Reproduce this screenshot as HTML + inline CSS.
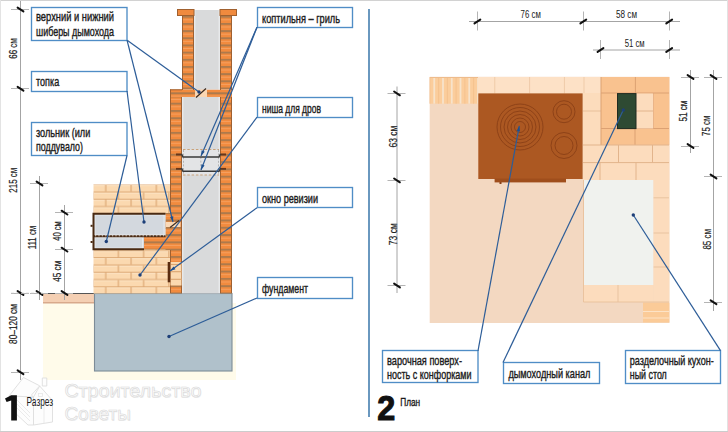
<!DOCTYPE html><html><head><meta charset="utf-8"><style>html,body{margin:0;padding:0;background:#fff;width:728px;height:432px;overflow:hidden}svg{display:block}text{font-family:"Liberation Sans",sans-serif}</style></head><body>
<svg width="728" height="432" viewBox="0 0 728 432">
<defs>
<pattern id="obrickU" patternUnits="userSpaceOnUse" x="0" y="15.8" width="12" height="7.17"><rect width="12" height="7.17" fill="#f28b3e"/><rect y="-0.2" width="12" height="2.2" fill="#ad7a4c"/><rect y="3.6" width="12" height="0.8" fill="#f6a466"/></pattern>
<pattern id="obrickL" patternUnits="userSpaceOnUse" x="0" y="102.7" width="12" height="7.3"><rect width="12" height="7.3" fill="#f28b3e"/><rect y="-0.2" width="12" height="2.2" fill="#ad7a4c"/><rect y="3.6" width="12" height="0.8" fill="#f6a466"/></pattern>
<pattern id="obrickLedge" patternUnits="userSpaceOnUse" x="0" y="92.3" width="12" height="20"><rect width="12" height="20" fill="#f28b3e"/><rect y="-0.2" width="12" height="2.2" fill="#ad7a4c"/><rect y="3.6" width="12" height="0.8" fill="#f6a466"/></pattern>
<pattern id="pbrick" patternUnits="userSpaceOnUse" x="105.7" y="185.1" width="50.6" height="14.6"><rect width="50.6" height="14.6" fill="#fbd9b0"/><rect y="6.4" width="50.6" height="1.1" fill="#dba46f"/><rect y="13.7" width="50.6" height="1.1" fill="#dba46f"/><rect y="7.5" width="50.6" height="0.9" fill="#fde6c8"/><rect y="0.2" width="50.6" height="0.9" fill="#fde6c8"/><rect x="-0.5" y="0" width="1.1" height="6.5" fill="#dba46f"/><rect x="24.8" y="0" width="1.1" height="6.5" fill="#dba46f"/><rect x="50.1" y="0" width="1.1" height="6.5" fill="#dba46f"/><rect x="12.1" y="7.3" width="1.1" height="6.5" fill="#dba46f"/><rect x="37.4" y="7.3" width="1.1" height="6.5" fill="#dba46f"/></pattern>
</defs>
<rect x="0" y="0" width="728" height="432" fill="#fff" />
<line x1="0" y1="0.5" x2="728" y2="0.5" stroke="#d2d2d2" stroke-width="1" />
<line x1="0.5" y1="0" x2="0.5" y2="432" stroke="#e3e3e3" stroke-width="1" />
<line x1="727.5" y1="0" x2="727.5" y2="432" stroke="#e2e2e2" stroke-width="1" />
<line x1="0" y1="431.5" x2="728" y2="431.5" stroke="#cccccc" stroke-width="1" />
<rect x="43" y="303" width="193" height="77" fill="#fffbea" />
<rect x="43" y="293.5" width="51" height="9.5" fill="#f4cfb3" />
<line x1="43" y1="302.8" x2="94" y2="302.8" stroke="#d8a98c" stroke-width="1.4" />
<line x1="43" y1="293.5" x2="94" y2="293.5" stroke="#555" stroke-width="1" />
<rect x="94.5" y="293.5" width="137.5" height="77.5" fill="#b0c1cb" stroke="#7d8c97" stroke-width="1.1" />
<rect x="93.5" y="184.5" width="77" height="109" fill="url(#pbrick)" />
<rect x="144" y="236" width="26" height="13.5" fill="url(#obrickL)" />
<rect x="165.5" y="213" width="5" height="37" fill="url(#obrickL)" />
<rect x="93.5" y="213.5" width="72" height="22.7" fill="#d3d8de" />
<rect x="95" y="215" width="69" height="20" fill="none" stroke="#eceef0" stroke-width="0.8" />
<rect x="93.5" y="236.2" width="50.5" height="13.3" fill="#d3d8de" />
<rect x="95" y="237.8" width="47.5" height="10.3" fill="none" stroke="#eceef0" stroke-width="0.8" />
<polyline points="165.5,213.7 93.5,213.7 93.5,249.3 144,249.3" fill="none" stroke="#4a2a12" stroke-width="2"/>
<line x1="93.5" y1="236.3" x2="165.5" y2="236.3" stroke="#4a2a12" stroke-width="2" />
<line x1="95" y1="235.8" x2="165" y2="235.8" stroke="#f4efe8" stroke-width="0.9" stroke-dasharray="1.2 2.2"/>
<rect x="90.6" y="224.8" width="2" height="2" fill="#4a2a12" />
<rect x="90.6" y="241" width="2" height="2" fill="#4a2a12" />
<rect x="170" y="97" width="12" height="196.5" fill="url(#obrickL)" />
<rect x="220" y="97" width="12" height="196.5" fill="url(#obrickL)" />
<rect x="182" y="97" width="38" height="196.5" fill="#d9dadb" />
<line x1="182.8" y1="97" x2="182.8" y2="293" stroke="#eef0f2" stroke-width="1" />
<line x1="219.2" y1="97" x2="219.2" y2="293" stroke="#eef0f2" stroke-width="1" />
<rect x="170" y="89.5" width="62" height="7.5" fill="url(#obrickLedge)" />
<rect x="195" y="89.5" width="12" height="7.5" fill="#fbd7b2" />
<rect x="182" y="15.5" width="12" height="74" fill="url(#obrickU)" />
<rect x="220" y="15.5" width="12" height="74" fill="url(#obrickU)" />
<rect x="194" y="10" width="26" height="79.5" fill="#d9dadb" />
<line x1="194.8" y1="10" x2="194.8" y2="89.5" stroke="#eef0f2" stroke-width="1" />
<line x1="219.2" y1="10" x2="219.2" y2="89.5" stroke="#eef0f2" stroke-width="1" />
<rect x="177.5" y="9.5" width="16.5" height="6" fill="#f08a3e" stroke="#a0602f" stroke-width="1" />
<rect x="220" y="9.5" width="16.5" height="6" fill="#f08a3e" stroke="#a0602f" stroke-width="1" />
<line x1="182.5" y1="15.5" x2="182.5" y2="90" stroke="#a0602f" stroke-width="1" />
<line x1="193.5" y1="15.5" x2="193.5" y2="90" stroke="#a0602f" stroke-width="1" />
<line x1="220.5" y1="15.5" x2="220.5" y2="90" stroke="#a0602f" stroke-width="1" />
<line x1="231.5" y1="15.5" x2="231.5" y2="90" stroke="#a0602f" stroke-width="1" />
<line x1="181.5" y1="97" x2="181.5" y2="293" stroke="#a0602f" stroke-width="1" />
<line x1="220.5" y1="97" x2="220.5" y2="293" stroke="#a0602f" stroke-width="1" />
<line x1="231.5" y1="97" x2="231.5" y2="293" stroke="#a0602f" stroke-width="1" />
<line x1="170.5" y1="97" x2="170.5" y2="213" stroke="#a0602f" stroke-width="1" />
<line x1="170.5" y1="250" x2="170.5" y2="293" stroke="#a0602f" stroke-width="1" />
<line x1="170.5" y1="89.5" x2="170.5" y2="97" stroke="#a0602f" stroke-width="1" />
<line x1="170" y1="89.8" x2="182" y2="89.8" stroke="#a0602f" stroke-width="1" />
<line x1="196" y1="97.5" x2="206" y2="88.5" stroke="#3a2a20" stroke-width="1.2" />
<rect x="166" y="222" width="14.5" height="5" fill="#fbd9b6" />
<line x1="170" y1="227.5" x2="179" y2="220.5" stroke="#3a2a20" stroke-width="1.1" />
<rect x="170.5" y="262" width="11" height="23.5" fill="#fbd9b0" />
<line x1="170.5" y1="264.5" x2="182" y2="264.5" stroke="#dba46f" stroke-width="1.1" />
<line x1="170.5" y1="271.7" x2="182" y2="271.7" stroke="#dba46f" stroke-width="1.1" />
<line x1="170.5" y1="279.3" x2="182" y2="279.3" stroke="#dba46f" stroke-width="1.1" />
<rect x="167.7" y="262" width="2.6" height="20.3" fill="#5a2c10" />
<rect x="183" y="149.5" width="36" height="25.5" fill="#e3e4e6" />
<line x1="183" y1="149.5" x2="219" y2="149.5" stroke="#c9a27a" stroke-width="1" stroke-dasharray="2.5 1.8"/>
<line x1="183" y1="175" x2="219" y2="175" stroke="#c9a27a" stroke-width="1" stroke-dasharray="2.5 1.8"/>
<line x1="183.5" y1="150" x2="183.5" y2="175" stroke="#a8a8a8" stroke-width="0.8" stroke-dasharray="2 1.6"/>
<line x1="218.5" y1="150" x2="218.5" y2="175" stroke="#a8a8a8" stroke-width="0.8" stroke-dasharray="2 1.6"/>
<line x1="200.8" y1="157" x2="200.8" y2="171" stroke="#a8a8a8" stroke-width="0.8" stroke-dasharray="2 1.6"/>
<polyline points="176,154.5 181.8,154.5 183,157 219,157 220.2,154.5 226,154.5" fill="none" stroke="#3a3a3a" stroke-width="1.5"/>
<polyline points="176,168.7 181.8,168.7 183,171.2 219,171.2 220.2,168.7 226,168.7" fill="none" stroke="#3a3a3a" stroke-width="1.5"/>
<line x1="176" y1="154.5" x2="181" y2="154.5" stroke="#6a3516" stroke-width="1.6" />
<line x1="221" y1="154.5" x2="226" y2="154.5" stroke="#6a3516" stroke-width="1.6" />
<line x1="176" y1="168.7" x2="181" y2="168.7" stroke="#6a3516" stroke-width="1.6" />
<line x1="221" y1="168.7" x2="226" y2="168.7" stroke="#6a3516" stroke-width="1.6" />
<line x1="20.5" y1="1" x2="20.5" y2="380" stroke="#a4a4a4" stroke-width="1" />
<line x1="11.0" y1="9.5" x2="29.0" y2="9.5" stroke="#b4b4b4" stroke-width="1" />
<line x1="17.6" y1="7.6" x2="23.4" y2="11.4" stroke="#111" stroke-width="2.0" stroke-linecap="round"/>
<line x1="11.0" y1="88.5" x2="29.0" y2="88.5" stroke="#b4b4b4" stroke-width="1" />
<line x1="17.6" y1="86.8" x2="23.4" y2="90.60000000000001" stroke="#111" stroke-width="2.0" stroke-linecap="round"/>
<line x1="11.0" y1="293.5" x2="29.0" y2="293.5" stroke="#b4b4b4" stroke-width="1" />
<line x1="17.6" y1="291.1" x2="23.4" y2="294.9" stroke="#111" stroke-width="2.0" stroke-linecap="round"/>
<line x1="11.0" y1="372.5" x2="29.0" y2="372.5" stroke="#b4b4b4" stroke-width="1" />
<line x1="17.6" y1="370.40000000000003" x2="23.4" y2="374.2" stroke="#111" stroke-width="2.0" stroke-linecap="round"/>
<line x1="39.5" y1="176" x2="39.5" y2="300" stroke="#a4a4a4" stroke-width="1" />
<line x1="30.0" y1="183.5" x2="48.0" y2="183.5" stroke="#b4b4b4" stroke-width="1" />
<line x1="36.6" y1="181.6" x2="42.4" y2="185.4" stroke="#111" stroke-width="2.0" stroke-linecap="round"/>
<line x1="30.0" y1="293.5" x2="48.0" y2="293.5" stroke="#b4b4b4" stroke-width="1" />
<line x1="36.6" y1="291.1" x2="42.4" y2="294.9" stroke="#111" stroke-width="2.0" stroke-linecap="round"/>
<line x1="64.5" y1="205" x2="64.5" y2="300" stroke="#a4a4a4" stroke-width="1" />
<line x1="55.0" y1="212.5" x2="73.0" y2="212.5" stroke="#b4b4b4" stroke-width="1" />
<line x1="61.6" y1="210.7" x2="67.4" y2="214.5" stroke="#111" stroke-width="2.0" stroke-linecap="round"/>
<line x1="55.0" y1="249.5" x2="73.0" y2="249.5" stroke="#b4b4b4" stroke-width="1" />
<line x1="61.6" y1="247.7" x2="67.4" y2="251.5" stroke="#111" stroke-width="2.0" stroke-linecap="round"/>
<line x1="55.0" y1="293.5" x2="73.0" y2="293.5" stroke="#b4b4b4" stroke-width="1" />
<line x1="61.6" y1="291.1" x2="67.4" y2="294.9" stroke="#111" stroke-width="2.0" stroke-linecap="round"/>
<line x1="11" y1="293.3" x2="43" y2="293.3" stroke="#bdbdbd" stroke-width="1" stroke-dasharray="3 2"/>
<text transform="translate(17.0,48.5) rotate(-90)" font-size="10.9" fill="#1b1b1b" stroke="#1b1b1b" stroke-width="0.2" font-weight="normal" text-anchor="middle" textLength="20.5" lengthAdjust="spacingAndGlyphs">66 см</text>
<text transform="translate(17.0,180.2) rotate(-90)" font-size="10.9" fill="#1b1b1b" stroke="#1b1b1b" stroke-width="0.2" font-weight="normal" text-anchor="middle" textLength="25" lengthAdjust="spacingAndGlyphs">215 см</text>
<text transform="translate(16.9,324) rotate(-90)" font-size="10.9" fill="#1b1b1b" stroke="#1b1b1b" stroke-width="0.2" font-weight="normal" text-anchor="middle" textLength="40" lengthAdjust="spacingAndGlyphs">80–120 см</text>
<text transform="translate(36.1,237.5) rotate(-90)" font-size="10.9" fill="#1b1b1b" stroke="#1b1b1b" stroke-width="0.2" font-weight="normal" text-anchor="middle" textLength="23.6" lengthAdjust="spacingAndGlyphs">111 см</text>
<text transform="translate(60.8,231) rotate(-90)" font-size="10.9" fill="#1b1b1b" stroke="#1b1b1b" stroke-width="0.2" font-weight="normal" text-anchor="middle" textLength="19.6" lengthAdjust="spacingAndGlyphs">40 см</text>
<text transform="translate(61.3,271.2) rotate(-90)" font-size="10.9" fill="#1b1b1b" stroke="#1b1b1b" stroke-width="0.2" font-weight="normal" text-anchor="middle" textLength="21" lengthAdjust="spacingAndGlyphs">45 см</text>
<rect x="31.5" y="7.5" width="95.5" height="33.0" fill="#fff" stroke="#4f8dc6" stroke-width="1.35" />
<text x="36" y="21.1" font-size="12.2" fill="#1b1b1b" font-weight="normal" text-anchor="start" textLength="78" lengthAdjust="spacingAndGlyphs"  stroke="#1b1b1b" stroke-width="0.38">верхний и нижний</text>
<text x="36" y="36.1" font-size="12.2" fill="#1b1b1b" font-weight="normal" text-anchor="start" textLength="78" lengthAdjust="spacingAndGlyphs"  stroke="#1b1b1b" stroke-width="0.38">шиберы дымохода</text>
<rect x="31.5" y="71.5" width="95.5" height="20.0" fill="#fff" stroke="#4f8dc6" stroke-width="1.35" />
<text x="36" y="86.1" font-size="12.2" fill="#1b1b1b" font-weight="normal" text-anchor="start" textLength="23.2" lengthAdjust="spacingAndGlyphs"  stroke="#1b1b1b" stroke-width="0.38">топка</text>
<rect x="31.5" y="122.5" width="95.5" height="33.0" fill="#fff" stroke="#4f8dc6" stroke-width="1.35" />
<text x="36" y="136.6" font-size="12.2" fill="#1b1b1b" font-weight="normal" text-anchor="start" textLength="54.3" lengthAdjust="spacingAndGlyphs"  stroke="#1b1b1b" stroke-width="0.38">зольник (или</text>
<text x="36" y="151.1" font-size="12.2" fill="#1b1b1b" font-weight="normal" text-anchor="start" textLength="47" lengthAdjust="spacingAndGlyphs"  stroke="#1b1b1b" stroke-width="0.38">поддувало)</text>
<rect x="257.5" y="7.5" width="95.0" height="20.0" fill="#fff" stroke="#4f8dc6" stroke-width="1.35" />
<text x="262" y="22.6" font-size="12.2" fill="#1b1b1b" font-weight="normal" text-anchor="start" textLength="78" lengthAdjust="spacingAndGlyphs"  stroke="#1b1b1b" stroke-width="0.38">коптильня – гриль</text>
<rect x="257.5" y="97.5" width="95.0" height="20.0" fill="#fff" stroke="#4f8dc6" stroke-width="1.35" />
<text x="262" y="112.6" font-size="12.2" fill="#1b1b1b" font-weight="normal" text-anchor="start" textLength="59" lengthAdjust="spacingAndGlyphs"  stroke="#1b1b1b" stroke-width="0.38">ниша для дров</text>
<rect x="257.5" y="187.5" width="95.0" height="20.0" fill="#fff" stroke="#4f8dc6" stroke-width="1.35" />
<text x="262" y="202.6" font-size="12.2" fill="#1b1b1b" font-weight="normal" text-anchor="start" textLength="56" lengthAdjust="spacingAndGlyphs"  stroke="#1b1b1b" stroke-width="0.38">окно ревизии</text>
<rect x="257.5" y="277.5" width="95.0" height="21.0" fill="#fff" stroke="#4f8dc6" stroke-width="1.35" />
<text x="262" y="293.1" font-size="12.2" fill="#1b1b1b" font-weight="normal" text-anchor="start" textLength="46" lengthAdjust="spacingAndGlyphs"  stroke="#1b1b1b" stroke-width="0.38">фундамент</text>
<line x1="127.5" y1="40.5" x2="199" y2="92" stroke="#2d5d98" stroke-width="1.2" />
<circle cx="199" cy="92" r="1.7" fill="#1d3f78"/>
<line x1="127" y1="40" x2="173" y2="222" stroke="#2d5d98" stroke-width="1.2" />
<polygon points="173,222 170.00,217.08 173.30,216.25" fill="#1d4f8f"/>
<line x1="127" y1="91" x2="144" y2="222" stroke="#2d5d98" stroke-width="1.2" />
<circle cx="144" cy="222" r="1.7" fill="#1d3f78"/>
<line x1="127" y1="155.5" x2="106.3" y2="241.5" stroke="#2d5d98" stroke-width="1.2" />
<circle cx="106.3" cy="241.5" r="1.7" fill="#1d3f78"/>
<line x1="257" y1="27.2" x2="201" y2="156" stroke="#2d5d98" stroke-width="1.2" />
<polygon points="201,156 201.63,150.28 204.75,151.63" fill="#1d4f8f"/>
<line x1="257" y1="27.2" x2="201" y2="170" stroke="#2d5d98" stroke-width="1.2" />
<polygon points="201,170 201.43,164.26 204.59,165.50" fill="#1d4f8f"/>
<line x1="257" y1="117.2" x2="140" y2="275" stroke="#2d5d98" stroke-width="1.2" />
<circle cx="140" cy="275" r="1.7" fill="#1d3f78"/>
<line x1="257" y1="207.7" x2="170" y2="271" stroke="#2d5d98" stroke-width="1.2" />
<polygon points="170,271 173.45,266.39 175.45,269.14" fill="#1d4f8f"/>
<line x1="257" y1="298" x2="169" y2="336.5" stroke="#2d5d98" stroke-width="1.2" />
<circle cx="169" cy="336.5" r="1.7" fill="#1d3f78"/>
<line x1="369" y1="9" x2="369" y2="417" stroke="#6a98bf" stroke-width="2" />
<g fill="#fdfdfd" stroke="#dedede" stroke-width="0.9" stroke-linejoin="round">
<polygon points="33.5,397 39.7,386 52.5,400.5 52.5,422 33.5,425"/>
<polygon points="12,396 33.5,397 33.5,425 28,425 12,410"/>
<polygon points="23.5,377.5 39.7,385.8 31.5,395 33.5,397 12,396 9,396"/>
<rect x="42.3" y="378" width="4.5" height="8"/>
</g>
<g fill="none" stroke="#e6e6e6" stroke-width="0.8"><line x1="17" y1="400" x2="30" y2="413"/><line x1="17" y1="404" x2="30" y2="417"/><line x1="17" y1="408" x2="30" y2="421"/><rect x="38.5" y="393.5" width="4" height="3"/><line x1="44" y1="404" x2="44" y2="423"/></g>
<g font-weight="normal">
<text x="65.0" y="397.9" font-size="18.5" fill="#ececec" font-weight="normal" text-anchor="start" textLength="137" lengthAdjust="spacingAndGlyphs" >Строительство</text>
<text x="65.0" y="420.5" font-size="18.5" fill="#ececec" font-weight="normal" text-anchor="start" textLength="66.4" lengthAdjust="spacingAndGlyphs" >Советы</text>
<text x="64.4" y="397.2" font-size="18.5" fill="#fbfbfb" font-weight="normal" text-anchor="start" textLength="137" lengthAdjust="spacingAndGlyphs" stroke="#d6d6d6" stroke-width="0.5">Строительство</text>
<text x="64.4" y="419.8" font-size="18.5" fill="#fbfbfb" font-weight="normal" text-anchor="start" textLength="66.4" lengthAdjust="spacingAndGlyphs" stroke="#d6d6d6" stroke-width="0.5">Советы</text>
</g>
<polygon points="11.2,395.2 16.9,395.2 16.9,420.6 11.2,420.6 11.2,400.6 6.6,402 5.0,398.4" fill="#111"/>
<text x="26.6" y="405.7" font-size="12" fill="#1b1b1b" font-weight="normal" text-anchor="start" textLength="26.5" lengthAdjust="spacingAndGlyphs" >Разрез</text>
<text x="377.3" y="420.0" font-size="35" fill="#111" font-weight="bold" text-anchor="start" textLength="18" lengthAdjust="spacingAndGlyphs" stroke="#111" stroke-width="1.1">2</text>
<text x="400.2" y="405.8" font-size="11.8" fill="#1b1b1b" font-weight="normal" text-anchor="start" textLength="20" lengthAdjust="spacingAndGlyphs"  stroke="#1b1b1b" stroke-width="0.38">План</text>
<rect x="429.7" y="76.8" width="239.7" height="246.2" fill="#f3d8c1" />
<rect x="430" y="77" width="48.4" height="26.7" fill="#fbcd9c" />
<line x1="434.25" y1="77" x2="434.25" y2="103.7" stroke="#f7e3cb" stroke-width="1.8" />
<line x1="429.85" y1="77" x2="429.85" y2="103.7" stroke="#f0bd88" stroke-width="0.7" />
<line x1="443.0" y1="77" x2="443.0" y2="103.7" stroke="#f7e3cb" stroke-width="1.8" />
<line x1="438.6" y1="77" x2="438.6" y2="103.7" stroke="#f0bd88" stroke-width="0.7" />
<line x1="451.75" y1="77" x2="451.75" y2="103.7" stroke="#f7e3cb" stroke-width="1.8" />
<line x1="447.35" y1="77" x2="447.35" y2="103.7" stroke="#f0bd88" stroke-width="0.7" />
<line x1="460.5" y1="77" x2="460.5" y2="103.7" stroke="#f7e3cb" stroke-width="1.8" />
<line x1="456.1" y1="77" x2="456.1" y2="103.7" stroke="#f0bd88" stroke-width="0.7" />
<line x1="469.25" y1="77" x2="469.25" y2="103.7" stroke="#f7e3cb" stroke-width="1.8" />
<line x1="464.85" y1="77" x2="464.85" y2="103.7" stroke="#f0bd88" stroke-width="0.7" />
<line x1="478.0" y1="77" x2="478.0" y2="103.7" stroke="#f7e3cb" stroke-width="1.8" />
<line x1="473.6" y1="77" x2="473.6" y2="103.7" stroke="#f0bd88" stroke-width="0.7" />
<line x1="430" y1="77.5" x2="478.4" y2="77.5" stroke="#eebc8c" stroke-width="1" />
<rect x="478" y="77" width="123" height="16.5" fill="#fde1c6" />
<line x1="494.75" y1="77" x2="494.75" y2="93.5" stroke="#efcba9" stroke-width="1" />
<line x1="529.6" y1="77" x2="529.6" y2="93.5" stroke="#efcba9" stroke-width="1" />
<line x1="564.4" y1="77" x2="564.4" y2="93.5" stroke="#efcba9" stroke-width="1" />
<line x1="584" y1="77" x2="584" y2="93.5" stroke="#efcba9" stroke-width="1" />
<rect x="583" y="93" width="18" height="52" fill="#fcdcbc" />
<line x1="583" y1="111" x2="601" y2="111" stroke="#e8c09a" stroke-width="1" />
<rect x="601" y="77" width="68.4" height="68" fill="#f9c28f" />
<line x1="601" y1="93" x2="669" y2="93" stroke="#dca173" stroke-width="1" />
<line x1="601" y1="128.5" x2="669" y2="128.5" stroke="#dca173" stroke-width="1" />
<line x1="635.4" y1="77" x2="635.4" y2="93" stroke="#dca173" stroke-width="1" />
<line x1="635" y1="128.5" x2="635" y2="145" stroke="#dca173" stroke-width="1" />
<line x1="617.5" y1="93" x2="617.5" y2="128.5" stroke="#dca173" stroke-width="1" />
<line x1="653.2" y1="93" x2="653.2" y2="128.5" stroke="#dca173" stroke-width="1" />
<rect x="636" y="93.5" width="17.2" height="35" fill="#fcdcbd" />
<line x1="636" y1="111" x2="653" y2="111" stroke="#e2b48c" stroke-width="1" />
<line x1="601" y1="77" x2="601" y2="145" stroke="#dca173" stroke-width="1" />
<rect x="617.5" y="93.6" width="18.5" height="35" fill="#2e4a33" stroke="#1f2a20" stroke-width="1" />
<rect x="583" y="145" width="86.4" height="35" fill="#fcdcbd" />
<line x1="583" y1="145" x2="669" y2="145" stroke="#e2b48c" stroke-width="1" />
<line x1="583" y1="162.6" x2="669" y2="162.6" stroke="#e2b48c" stroke-width="1" />
<line x1="618.5" y1="145" x2="618.5" y2="162.6" stroke="#e2b48c" stroke-width="1" />
<line x1="652.5" y1="145" x2="652.5" y2="162.6" stroke="#e2b48c" stroke-width="1" />
<line x1="600" y1="162.6" x2="600" y2="180" stroke="#e2b48c" stroke-width="1" />
<line x1="636" y1="162.6" x2="636" y2="180" stroke="#e2b48c" stroke-width="1" />
<rect x="478.3" y="93.4" width="104.3" height="85.6" fill="#ac5822" />
<rect x="494.6" y="178.5" width="71.4" height="3.9" fill="#9f4e1c" />
<circle cx="520" cy="127" r="23" fill="none" stroke="#8a4016" stroke-width="0.9"/>
<circle cx="520" cy="127" r="19.5" fill="none" stroke="#8a4016" stroke-width="0.9"/>
<circle cx="520" cy="127" r="16" fill="none" stroke="#8a4016" stroke-width="0.9"/>
<circle cx="520" cy="127" r="12.5" fill="none" stroke="#8a4016" stroke-width="0.9"/>
<circle cx="520" cy="127" r="9" fill="none" stroke="#8a4016" stroke-width="0.9"/>
<circle cx="520" cy="127" r="5.5" fill="none" stroke="#8a4016" stroke-width="0.9"/>
<circle cx="564" cy="111.7" r="11" fill="none" stroke="#8a4016" stroke-width="0.9"/>
<circle cx="564" cy="111.7" r="7.5" fill="none" stroke="#8a4016" stroke-width="0.9"/>
<circle cx="564" cy="145.5" r="13" fill="none" stroke="#8a4016" stroke-width="0.9"/>
<circle cx="564" cy="145.5" r="9" fill="none" stroke="#8a4016" stroke-width="0.9"/>
<rect x="499.5" y="182" width="2" height="2" fill="#8a4016" />
<rect x="653.3" y="180" width="16" height="122" fill="#fcdcbd" />
<line x1="653.3" y1="197.8" x2="669" y2="197.8" stroke="#e8c3a0" stroke-width="1" />
<line x1="653.3" y1="233" x2="669" y2="233" stroke="#e8c3a0" stroke-width="1" />
<line x1="653.3" y1="267" x2="669" y2="267" stroke="#e8c3a0" stroke-width="1" />
<rect x="584" y="285" width="69.3" height="17" fill="#fcdcbd" />
<line x1="618" y1="285" x2="618" y2="302" stroke="#e8c3a0" stroke-width="1" />
<rect x="584" y="180" width="69.3" height="105" fill="#f0f2ee" />
<rect x="643" y="302.5" width="26.4" height="20" fill="#fbcb98" />
<line x1="643" y1="311.5" x2="669.4" y2="311.5" stroke="#fde3c6" stroke-width="1" />
<line x1="643" y1="318" x2="669.4" y2="318" stroke="#fde3c6" stroke-width="1" />
<polyline points="583.5,180 583.5,302 669,302" fill="none" stroke="#e9c19b" stroke-width="0.9"/>
<line x1="469" y1="21.5" x2="680" y2="21.5" stroke="#a4a4a4" stroke-width="1" />
<line x1="477.5" y1="11.5" x2="477.5" y2="30.5" stroke="#b4b4b4" stroke-width="1" />
<line x1="474.5" y1="23.4" x2="480.29999999999995" y2="19.6" stroke="#111" stroke-width="2.0" stroke-linecap="round"/>
<line x1="583.5" y1="11.5" x2="583.5" y2="30.5" stroke="#b4b4b4" stroke-width="1" />
<line x1="580.4" y1="23.4" x2="586.1999999999999" y2="19.6" stroke="#111" stroke-width="2.0" stroke-linecap="round"/>
<line x1="669.5" y1="11.5" x2="669.5" y2="30.5" stroke="#b4b4b4" stroke-width="1" />
<line x1="666.3000000000001" y1="23.4" x2="672.1" y2="19.6" stroke="#111" stroke-width="2.0" stroke-linecap="round"/>
<text x="530.7" y="17.8" font-size="11.5" fill="#1b1b1b" font-weight="normal" text-anchor="middle" textLength="20.2" lengthAdjust="spacingAndGlyphs" >76 см</text>
<text x="626.5" y="17.8" font-size="11.5" fill="#1b1b1b" font-weight="normal" text-anchor="middle" textLength="21" lengthAdjust="spacingAndGlyphs" >58 см</text>
<line x1="593" y1="50" x2="680" y2="50" stroke="#a4a4a4" stroke-width="1" />
<line x1="600.5" y1="40" x2="600.5" y2="59" stroke="#b4b4b4" stroke-width="1" />
<line x1="597.6" y1="51.9" x2="603.4" y2="48.1" stroke="#111" stroke-width="2.0" stroke-linecap="round"/>
<line x1="669.5" y1="40" x2="669.5" y2="59" stroke="#b4b4b4" stroke-width="1" />
<line x1="666.3000000000001" y1="51.9" x2="672.1" y2="48.1" stroke="#111" stroke-width="2.0" stroke-linecap="round"/>
<text x="634.7" y="46.5" font-size="11.5" fill="#1b1b1b" font-weight="normal" text-anchor="middle" textLength="20" lengthAdjust="spacingAndGlyphs" >51 см</text>
<line x1="397" y1="86.5" x2="397" y2="293" stroke="#a4a4a4" stroke-width="1" />
<line x1="387.5" y1="93.5" x2="405.5" y2="93.5" stroke="#b4b4b4" stroke-width="1" />
<line x1="394.1" y1="91.5" x2="399.9" y2="95.30000000000001" stroke="#111" stroke-width="2.0" stroke-linecap="round"/>
<line x1="387.5" y1="180.5" x2="405.5" y2="180.5" stroke="#b4b4b4" stroke-width="1" />
<line x1="394.1" y1="178.5" x2="399.9" y2="182.3" stroke="#111" stroke-width="2.0" stroke-linecap="round"/>
<line x1="387.5" y1="285.5" x2="405.5" y2="285.5" stroke="#b4b4b4" stroke-width="1" />
<line x1="394.1" y1="283.6" x2="399.9" y2="287.4" stroke="#111" stroke-width="2.0" stroke-linecap="round"/>
<text transform="translate(396.5,136.6) rotate(-90)" font-size="10.9" fill="#1b1b1b" stroke="#1b1b1b" stroke-width="0.2" font-weight="normal" text-anchor="middle" textLength="22" lengthAdjust="spacingAndGlyphs">63 см</text>
<text transform="translate(396.8,234.2) rotate(-90)" font-size="10.9" fill="#1b1b1b" stroke="#1b1b1b" stroke-width="0.2" font-weight="normal" text-anchor="middle" textLength="22" lengthAdjust="spacingAndGlyphs">73 см</text>
<line x1="690.5" y1="70" x2="690.5" y2="153" stroke="#a4a4a4" stroke-width="1" />
<line x1="681.0" y1="77.5" x2="699.0" y2="77.5" stroke="#b4b4b4" stroke-width="1" />
<line x1="687.6" y1="75.1" x2="693.4" y2="78.9" stroke="#111" stroke-width="2.0" stroke-linecap="round"/>
<line x1="681.0" y1="146.5" x2="699.0" y2="146.5" stroke="#b4b4b4" stroke-width="1" />
<line x1="687.6" y1="144.1" x2="693.4" y2="147.9" stroke="#111" stroke-width="2.0" stroke-linecap="round"/>
<text transform="translate(687.1,111.1) rotate(-90)" font-size="10.9" fill="#1b1b1b" stroke="#1b1b1b" stroke-width="0.2" font-weight="normal" text-anchor="middle" textLength="21" lengthAdjust="spacingAndGlyphs">51 см</text>
<line x1="713.5" y1="70" x2="713.5" y2="311" stroke="#a4a4a4" stroke-width="1" />
<line x1="704.0" y1="77.5" x2="722.0" y2="77.5" stroke="#b4b4b4" stroke-width="1" />
<line x1="710.6" y1="75.1" x2="716.4" y2="78.9" stroke="#111" stroke-width="2.0" stroke-linecap="round"/>
<line x1="704.0" y1="176.5" x2="722.0" y2="176.5" stroke="#b4b4b4" stroke-width="1" />
<line x1="710.6" y1="174.6" x2="716.4" y2="178.4" stroke="#111" stroke-width="2.0" stroke-linecap="round"/>
<line x1="704.0" y1="302.5" x2="722.0" y2="302.5" stroke="#b4b4b4" stroke-width="1" />
<line x1="710.6" y1="300.3" x2="716.4" y2="304.09999999999997" stroke="#111" stroke-width="2.0" stroke-linecap="round"/>
<text transform="translate(709.9,125.7) rotate(-90)" font-size="10.9" fill="#1b1b1b" stroke="#1b1b1b" stroke-width="0.2" font-weight="normal" text-anchor="middle" textLength="20.5" lengthAdjust="spacingAndGlyphs">75 см</text>
<text transform="translate(710.5,239.3) rotate(-90)" font-size="10.9" fill="#1b1b1b" stroke="#1b1b1b" stroke-width="0.2" font-weight="normal" text-anchor="middle" textLength="20.6" lengthAdjust="spacingAndGlyphs">85 см</text>
<rect x="382.5" y="350.5" width="95.5" height="32.0" fill="#fff" stroke="#4f8dc6" stroke-width="1.35" />
<text x="387" y="364.9" font-size="12.2" fill="#1b1b1b" font-weight="normal" text-anchor="start" textLength="75" lengthAdjust="spacingAndGlyphs"  stroke="#1b1b1b" stroke-width="0.38">варочная поверх-</text>
<text x="387" y="379.0" font-size="12.2" fill="#1b1b1b" font-weight="normal" text-anchor="start" textLength="84.5" lengthAdjust="spacingAndGlyphs"  stroke="#1b1b1b" stroke-width="0.38">ность с конфорками</text>
<rect x="503.5" y="362.5" width="96.0" height="21.0" fill="#fff" stroke="#4f8dc6" stroke-width="1.35" />
<text x="508.4" y="378.2" font-size="12.2" fill="#1b1b1b" font-weight="normal" text-anchor="start" textLength="82" lengthAdjust="spacingAndGlyphs"  stroke="#1b1b1b" stroke-width="0.38">дымоходный канал</text>
<rect x="625.5" y="350.5" width="95.0" height="33.0" fill="#fff" stroke="#4f8dc6" stroke-width="1.35" />
<text x="629.8" y="365.4" font-size="12.2" fill="#1b1b1b" font-weight="normal" text-anchor="start" textLength="84" lengthAdjust="spacingAndGlyphs"  stroke="#1b1b1b" stroke-width="0.38">разделочный кухон-</text>
<text x="629.8" y="379.3" font-size="12.2" fill="#1b1b1b" font-weight="normal" text-anchor="start" textLength="37" lengthAdjust="spacingAndGlyphs"  stroke="#1b1b1b" stroke-width="0.38">ный стол</text>
<line x1="478" y1="350.8" x2="519.3" y2="125.8" stroke="#2d5d98" stroke-width="1.2" />
<polygon points="519.3,125.8 519.98,131.52 516.63,130.90" fill="#1d4f8f"/>
<line x1="503" y1="362.5" x2="623.3" y2="110" stroke="#2d5d98" stroke-width="1.2" />
<circle cx="623.3" cy="110" r="1.7" fill="#1d3f78"/>
<line x1="720.5" y1="350.6" x2="633.3" y2="215" stroke="#2d5d98" stroke-width="1.2" />
<circle cx="633.3" cy="215" r="1.7" fill="#1d3f78"/>
</svg></body></html>
